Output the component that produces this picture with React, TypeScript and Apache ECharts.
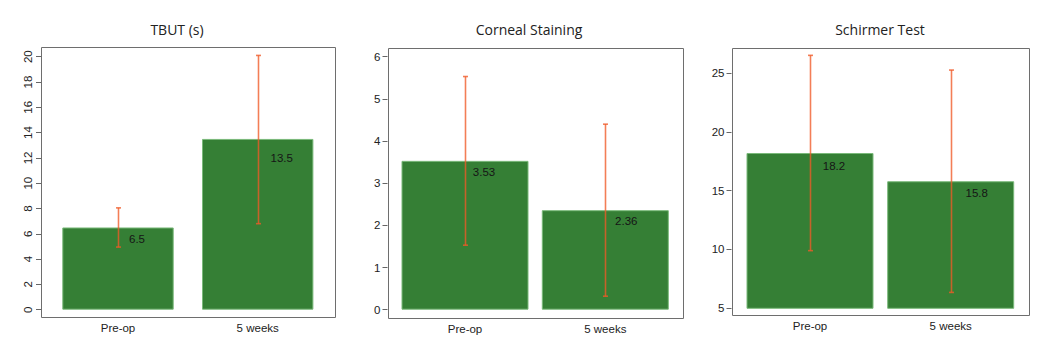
import React, { useEffect, useRef } from "react";
import * as echarts from "echarts";

const categories = ["Pre-op", "5 weeks"];

const tbutMeans = [6.5, 13.5];
const tbutLow = [4.95, 6.8];
const tbutHigh = [8.05, 20.1];

const cornealMeans = [3.53, 2.36];
const cornealLow = [1.53, 0.32];
const cornealHigh = [5.53, 4.4];

const schirmerMeans = [18.2, 15.8];
const schirmerLow = [9.9, 6.35];
const schirmerHigh = [26.5, 25.25];

const titles = ["TBUT (s)", "Corneal Staining", "Schirmer Test"];
const yMins = [0, 0, 5];
const yMaxs = [20, 6, 25];
const yIntervals = [2, 1, 5];

const BAR_COLOR = "#357f35";
const BAR_BORDER = "#7ab97a";
const ERR_COLOR = "rgba(240,90,40,0.78)";
const TEXT = "#222";
const FONT = "Liberation Sans, Arial, sans-serif";

// layout (pixels)
const frames = [
  { x: 41, y: 47, w: 294, h: 270 },
  { x: 387.5, y: 47.5, w: 295, h: 270 },
  { x: 731.5, y: 48, w: 297, h: 267 },
];
const grids = [
  { left: 48.15, top: 56.7, width: 279.4, height: 253 },
  { left: 394.85, top: 56.7, width: 280.6, height: 253 },
  { left: 739.65, top: 73, width: 281.4, height: 235.3 },
];
const barWidths = [111.4, 127, 127];
// label offsets [dx, dy] per panel per bar
const labelOffsets = [
  [[19, 1], [24, 8]],
  [[19, 0], [21, 0]],
  [[24, 2], [26, 1]],
];
const titleX = [177, 529, 880];

const means = [tbutMeans, cornealMeans, schirmerMeans];
const lows = [tbutLow, cornealLow, schirmerLow];
const highs = [tbutHigh, cornealHigh, schirmerHigh];

export default function App() {
  const ref = useRef<HTMLDivElement>(null);
  useEffect(() => {
    if (!ref.current) return;
    const chart = echarts.init(ref.current, undefined, { renderer: "svg" });

    const grid = grids.map((g) => ({ ...g, containLabel: false }));
    const xAxis = grids.map((g, i) => ({
      type: "category",
      gridIndex: i,
      data: categories,
      offset: frames[i].y + frames[i].h - (g.top + g.height),
      axisLine: { show: false },
      axisTick: { show: false },
      axisLabel: { margin: 5, fontSize: 11.5, color: TEXT, fontFamily: FONT },
    }));
    const yAxis = grids.map((g, i) => ({
      type: "value",
      gridIndex: i,
      min: yMins[i],
      max: yMaxs[i],
      interval: yIntervals[i],
      offset: g.left - frames[i].x,
      axisLine: { show: false },
      splitLine: { show: false },
      axisTick: { show: true, length: 5, lineStyle: { color: "#666", width: 1 } },
      axisLabel: {
        margin: 7,
        fontSize: 11.5,
        color: TEXT,
        fontFamily: FONT,
        rotate: i === 0 ? 90 : 0,
      },
    }));

    const series: any[] = [];
    for (let i = 0; i < 3; i++) {
      series.push({
        type: "bar",
        xAxisIndex: i,
        yAxisIndex: i,
        data: means[i].map((v, k) => ({
          value: v,
          label: { offset: labelOffsets[i][k] },
        })),
        barWidth: barWidths[i],
        z: 2,
        itemStyle: { color: BAR_COLOR, borderColor: BAR_BORDER, borderWidth: 1 },
        label: {
          show: true,
          position: "insideTop",
          distance: 5,
          fontSize: 11.5,
          color: "#151515",
          fontFamily: FONT,
        },
      });
      series.push({
        type: "custom",
        xAxisIndex: i,
        yAxisIndex: i,
        z: 3,
        clip: false,
        data: categories.map((_, k) => [k, lows[i][k], highs[i][k]]),
        encode: { x: 0, y: [1, 2] },
        renderItem: (params: any, api: any) => {
          const x = api.value(0);
          const lo = api.coord([x, api.value(1)]);
          const hi = api.coord([x, api.value(2)]);
          const cx = Math.round(lo[0]) + 0.5;
          const cap = 2.5;
          const style = { stroke: ERR_COLOR, lineWidth: 1.6 };
          return {
            type: "group",
            children: [
              { type: "line", shape: { x1: cx, y1: lo[1], x2: cx, y2: hi[1] }, style },
              { type: "line", shape: { x1: cx - cap, y1: lo[1], x2: cx + cap, y2: lo[1] }, style },
              { type: "line", shape: { x1: cx - cap, y1: hi[1], x2: cx + cap, y2: hi[1] }, style },
            ],
          };
        },
      });
    }

    const graphic: any[] = [];
    frames.forEach((f, i) => {
      graphic.push({
        type: "rect",
        z: 10,
        silent: true,
        shape: { x: Math.round(f.x) + 0.5, y: Math.round(f.y) + 0.5, width: Math.round(f.w), height: Math.round(f.h) },
        style: { fill: "none", stroke: "#6e6e6e", lineWidth: 1 },
      });
      graphic.push({
        type: "text",
        x: titleX[i],
        y: 29.5,
        style: {
          text: titles[i],
          fontSize: 14,
          fontFamily: "Open Sans",
          fill: TEXT,
          textAlign: "center",
          textVerticalAlign: "middle",
        },
      });
    });

    chart.setOption({
      animation: false,
      backgroundColor: "#ffffff",
      grid,
      xAxis,
      yAxis,
      series,
      graphic,
    });
    return () => chart.dispose();
  }, []);

  return (
    <div
      ref={ref}
      style={{ position: "fixed", left: 0, top: 0, width: 1038, height: 351 }}
    />
  );
}
